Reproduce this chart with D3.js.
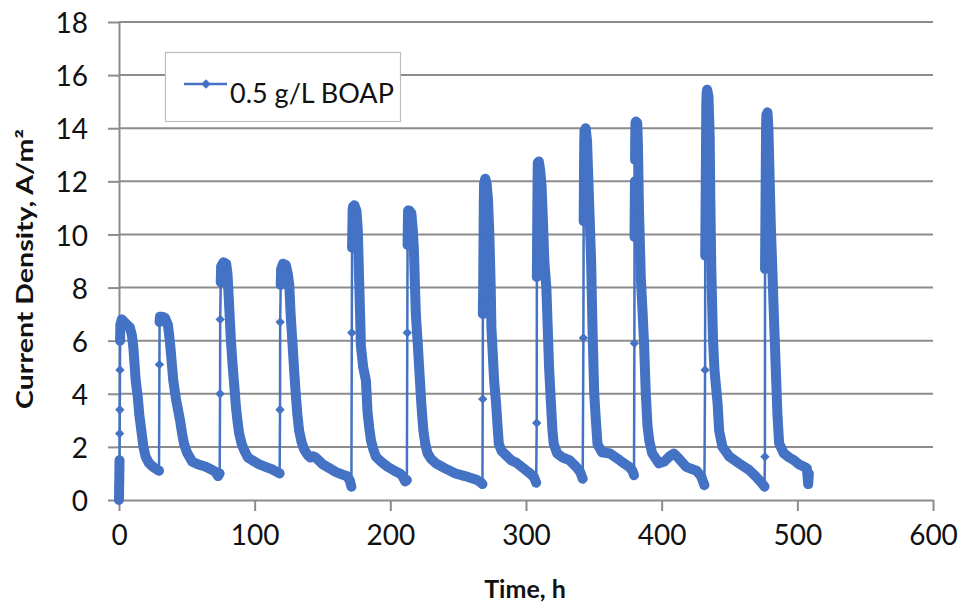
<!DOCTYPE html>
<html>
<head>
<meta charset="utf-8">
<script src="https://cdn.jsdelivr.net/npm/d3@7/dist/d3.min.js"></script>
<style>
  html, body { margin: 0; padding: 0; background: #ffffff; }
  svg { display: block; }
</style>
</head>
<body>
<svg id="chart" width="963" height="610"></svg>
<script>
// Current density of the bioanode over repeated batch feeds (0.5 g/L BOAP)
const hours = [
  // feed 1
  0, 0.1, 0.2, 0.3, 0.4, 0.5, 0.6, 0.7, 0.8, 1,
  2, 4, 6, 8, 9.5, 10.5, 11.5, 12.3, 13.8, 15, 16.5, 18, 19.6, 22, 25, 28, 29.5,
  // feed 2
  29.8, 29.9, 30.2, 32, 34, 36, 37, 38, 40, 42, 45, 46.5, 48, 50, 54, 58, 64, 68, 71, 73, 74.2,
  // feed 3
  74.5, 74.6, 75, 75.3, 77, 79, 80, 81, 81.5, 82.5, 83.7, 85, 86.2, 87.5, 88.6, 90.5, 92.5, 95, 98, 103, 108, 113, 116, 118.4,
  // feed 4
  118.7, 118.8, 119.2, 119.5, 121, 123, 124.5, 125.5, 126.5, 128, 129.2, 130.4, 131.5, 132.8, 134.5, 136.5, 139, 141, 143, 145, 147, 150, 155, 160, 165, 168, 170, 171.3,
  // feed 5
  171.6, 171.8, 172, 172.2, 172.5, 173.5, 175, 176, 177, 177.7, 178.3, 180, 182, 183.2, 184.5, 185.7, 187.5, 189.4, 193, 198, 203, 207, 209, 211, 212.2,
  // feed 6
  212.5, 212.7, 212.9, 213.1, 214, 215.5, 216.5, 217.3, 218.8, 220.3, 221.8, 223, 224.3, 225.8, 227.4, 230, 233.6, 240, 248, 255, 260, 264, 267, 267.9,
  // feed 7
  268.1, 268.2, 268.3, 268.4, 268.5, 268.6, 268.7, 268.8, 268.9, 269.1, 270, 271, 272, 273, 274, 274.5, 275.5, 276.5, 278, 279, 280, 282, 285, 289, 293, 298, 303, 306, 307.5,
  // feed 8
  307.9, 308, 308.1, 308.2, 308.3, 308.4, 308.5, 308.7, 309.5, 310.5, 311.5, 312.5, 313.5, 315, 316, 317, 318, 319.5, 320.5, 323, 327, 332, 337, 340, 341.8,
  // feed 9
  342.3, 342.5, 342.6, 342.7, 342.8, 342.9, 343.1, 344, 345, 346, 347, 348, 349, 350.3, 351.5, 352.7, 356, 362, 369, 373, 376, 378.5, 379.6,
  // feed 10
  379.9, 380, 380.1, 380.2, 380.3, 380.4, 380.5, 380.7, 381, 382, 382.5, 383.3, 384.6, 386, 387, 388.3, 389.6, 391, 393, 398, 402, 406, 409, 412, 418, 425.7, 429, 431.5,
  // feed 11
  432, 432.1, 432.2, 432.3, 432.4, 432.5, 432.6, 432.7, 432.8, 432.9, 433.1, 433.5, 434.5, 435.4, 435.9, 436.6, 437.8, 438.9, 441.2, 442.4, 444.8, 450, 457, 464.5, 469.5, 474, 475.8,
  // feed 12
  476.1, 476.2, 476.3, 476.4, 476.5, 476.6, 476.7, 476.8, 476.9, 477, 477.2, 478, 478.7, 479.2, 480.4, 481.7, 482.9, 484.2, 485.4, 486.6, 490, 494, 497.4, 501, 505, 507, 507.5, 508, 508.5
];

const density = [
  // feed 1
  0, 0.5, 0.8, 1.2, 1.5, 2.5, 3.4, 4.9, 6.0, 6.6,
  6.8, 6.7, 6.6, 6.5, 6.2, 5.8, 5.1, 4.5, 3.9, 3.2, 2.6, 2.0, 1.63, 1.4, 1.25, 1.15, 1.1,
  // feed 2
  5.1, 6.7, 6.9, 6.9, 6.85, 6.6, 6.2, 5.7, 4.5, 3.8, 3.0, 2.5, 2.1, 1.8, 1.44, 1.35, 1.25, 1.15, 1.07, 0.9, 1.0,
  // feed 3
  4.0, 6.8, 8.2, 8.8, 8.95, 8.9, 8.5, 7.5, 7.0, 6.0, 5.1, 4.3, 3.5, 2.9, 2.5, 2.1, 1.85, 1.6, 1.5, 1.35, 1.25, 1.15, 1.07, 1.0,
  // feed 4
  3.4, 6.7, 8.1, 8.7, 8.9, 8.85, 8.5, 8.1, 7.0, 5.8, 4.8, 3.9, 3.2, 2.6, 2.2, 1.9, 1.7, 1.6, 1.65, 1.6, 1.5, 1.35, 1.2, 1.05, 0.95, 0.9, 0.75, 0.5,
  // feed 5
  6.3, 9.5, 10.2, 10.9, 11.05, 11.1, 10.9, 10.2, 8.3, 7.0, 5.8, 5.0, 4.5, 3.3, 2.7, 2.25, 1.9, 1.63, 1.45, 1.25, 1.1, 1.0, 0.9, 0.7, 0.75,
  // feed 6
  6.3, 9.6, 10.3, 10.9, 10.9, 10.8, 10.2, 9.5, 7.0, 5.8, 4.5, 3.5, 2.64, 2.1, 1.76, 1.55, 1.38, 1.2, 1.0, 0.9, 0.82, 0.75, 0.65, 0.6,
  // feed 7
  3.8, 7.0, 7.5, 7.7, 8.4, 9.1, 9.8, 10.5, 11.2, 11.9, 12.1, 11.9, 11.3, 10.0, 8.0, 6.5, 5.5, 4.5, 3.6, 2.8, 2.1, 1.85, 1.7, 1.5, 1.4, 1.2, 1.0, 0.85, 0.65,
  // feed 8
  2.9, 8.4, 9.1, 9.8, 10.5, 11.2, 11.9, 12.7, 12.75, 12.4, 11.8, 10.5, 9.0, 8.0, 6.5, 5.0, 4.0, 2.6, 2.1, 1.75, 1.6, 1.5, 1.25, 1.05, 0.8,
  // feed 9
  6.1, 10.5, 11.2, 11.9, 12.6, 13.3, 13.9, 14.0, 13.5, 12.0, 10.5, 9.0, 6.5, 4.0, 3.0, 2.1, 1.8, 1.75, 1.5, 1.35, 1.25, 1.1, 0.93,
  // feed 10
  5.9, 9.9, 10.6, 11.3, 12.0, 12.8, 13.5, 14.2, 14.25, 14.2, 13.4, 10.9, 8.4, 7.0, 5.9, 4.0, 2.76, 2.2, 1.76, 1.38, 1.45, 1.65, 1.75, 1.6, 1.25, 1.1, 0.9, 0.56,
  // feed 11
  4.9, 9.2, 9.9, 10.6, 11.3, 12.0, 12.7, 13.4, 14.1, 14.8, 15.3, 15.45, 15.2, 13.7, 11.2, 8.66, 6.1, 4.9, 3.65, 2.6, 2.0, 1.63, 1.38, 1.13, 0.88, 0.63, 0.5,
  // feed 12
  1.63, 8.7, 9.4, 10.1, 10.8, 11.5, 12.2, 12.9, 13.6, 14.2, 14.5, 14.6, 14.0, 12.9, 10.4, 8.5, 6.66, 4.8, 3.14, 2.13, 1.76, 1.6, 1.5, 1.35, 1.25, 1.2, 0.9, 0.6, 1.0
];

const xTicks = [0, 100, 200, 300, 400, 500, 600];
const yTicks = [0, 2, 4, 6, 8, 10, 12, 14, 16, 18];
const seriesName = "0.5 g/L BOAP";
const xTitle = "Time, h";
const yTitle = "Current Density, A/m\u00B2";

const blue = "#4472C4";
const gridGray = "#8c8c8c";
const tickFont = "Lato, 'Liberation Sans', sans-serif";

const svg = d3.select("#chart");
const x = d3.scaleLinear().domain([0, 600]).range([119, 933]);
const y = d3.scaleLinear().domain([0, 18]).range([500, 22]);

const points = hours.map((h, i) => ({ h, v: density[i] }));

// horizontal gridlines
svg.append("g")
  .selectAll("line")
  .data(yTicks.filter(t => t > 0))
  .join("line")
  .attr("x1", x(0)).attr("x2", x(600))
  .attr("y1", d => y(d)).attr("y2", d => y(d))
  .attr("stroke", gridGray).attr("stroke-width", 2);

// y axis
const yAxis = svg.append("g")
  .attr("transform", `translate(${x(0)},0)`)
  .call(d3.axisLeft(y).tickValues(yTicks).tickSizeInner(11).tickSizeOuter(0).tickPadding(20));
yAxis.select(".domain").attr("stroke", gridGray).attr("stroke-width", 2);
yAxis.selectAll(".tick line").attr("stroke", gridGray).attr("stroke-width", 2);
yAxis.selectAll(".tick text")
  .attr("dy", "0.38em")
  .attr("fill", "#111")
  .style("font-family", tickFont).style("font-size", "28px");

// x axis
const xAxis = svg.append("g")
  .attr("transform", `translate(0,${y(0)})`)
  .call(d3.axisBottom(x).tickValues(xTicks).tickSizeInner(11).tickSizeOuter(0).tickPadding(14));
xAxis.select(".domain").attr("stroke", gridGray).attr("stroke-width", 2);
xAxis.selectAll(".tick line").attr("stroke", gridGray).attr("stroke-width", 2);
xAxis.selectAll(".tick text")
  .attr("fill", "#111")
  .style("font-family", tickFont).style("font-size", "28px");

// series: thin connecting line through every reading
const line = d3.line().x(d => x(d.h)).y(d => y(d.v));
const plot = svg.append("g");
plot.append("path")
  .datum(points)
  .attr("d", line)
  .attr("fill", "none")
  .attr("stroke", blue)
  .attr("stroke-width", 2.5)
  .attr("stroke-linejoin", "round");

// densely logged stretches (everything except the jump right after each feed)
// appear as a solid trail of overlapping markers
const runs = [];
let run = [points[0]];
for (let i = 1; i < points.length; i++) {
  const jump = points[i].v - points[i - 1].v > 0.8 && points[i].h - points[i - 1].h < 1;
  if (jump) {
    if (run.length > 1) runs.push(run);
    run = [points[i]];
  } else {
    run.push(points[i]);
  }
}
if (run.length > 1) runs.push(run);

plot.selectAll("path.trail")
  .data(runs)
  .join("path")
  .attr("class", "trail")
  .attr("d", line)
  .attr("fill", "none")
  .attr("stroke", blue)
  .attr("stroke-width", 10)
  .attr("stroke-linejoin", "round")
  .attr("stroke-linecap", "round");

// diamond markers
const diamond = d3.symbol(d3.symbolSquare, 44);
plot.selectAll("path.marker")
  .data(points)
  .join("path")
  .attr("class", "marker")
  .attr("d", diamond)
  .attr("transform", d => `translate(${x(d.h)},${y(d.v)}) rotate(45)`)
  .attr("fill", blue);

// legend
const legend = svg.append("g");
legend.append("rect")
  .attr("x", 165.5).attr("y", 52.5).attr("width", 235).attr("height", 69)
  .attr("fill", "#fff").attr("stroke", "#bdbdbd").attr("stroke-width", 1.2);
legend.append("line")
  .attr("x1", 184).attr("x2", 227).attr("y1", 84).attr("y2", 84)
  .attr("stroke", blue).attr("stroke-width", 2.5);
legend.append("path")
  .attr("d", diamond)
  .attr("transform", "translate(206,84) rotate(45)")
  .attr("fill", blue);
legend.append("text")
  .attr("x", 230).attr("y", 103)
  .attr("fill", "#111")
  .style("font-family", tickFont).style("font-size", "27px")
  .text(seriesName);

// axis titles
svg.append("text")
  .attr("x", 525).attr("y", 598)
  .attr("text-anchor", "middle")
  .attr("fill", "#111")
  .style("font-family", tickFont).style("font-size", "25px").style("font-weight", "bold")
  .text(xTitle);

svg.append("text")
  .attr("transform", "translate(33,269) rotate(-90)")
  .attr("text-anchor", "middle")
  .attr("fill", "#111")
  .attr("textLength", 280)
  .attr("lengthAdjust", "spacingAndGlyphs")
  .style("font-family", tickFont).style("font-size", "22px").style("font-weight", "bold")
  .text(yTitle);
</script>
</body>
</html>
